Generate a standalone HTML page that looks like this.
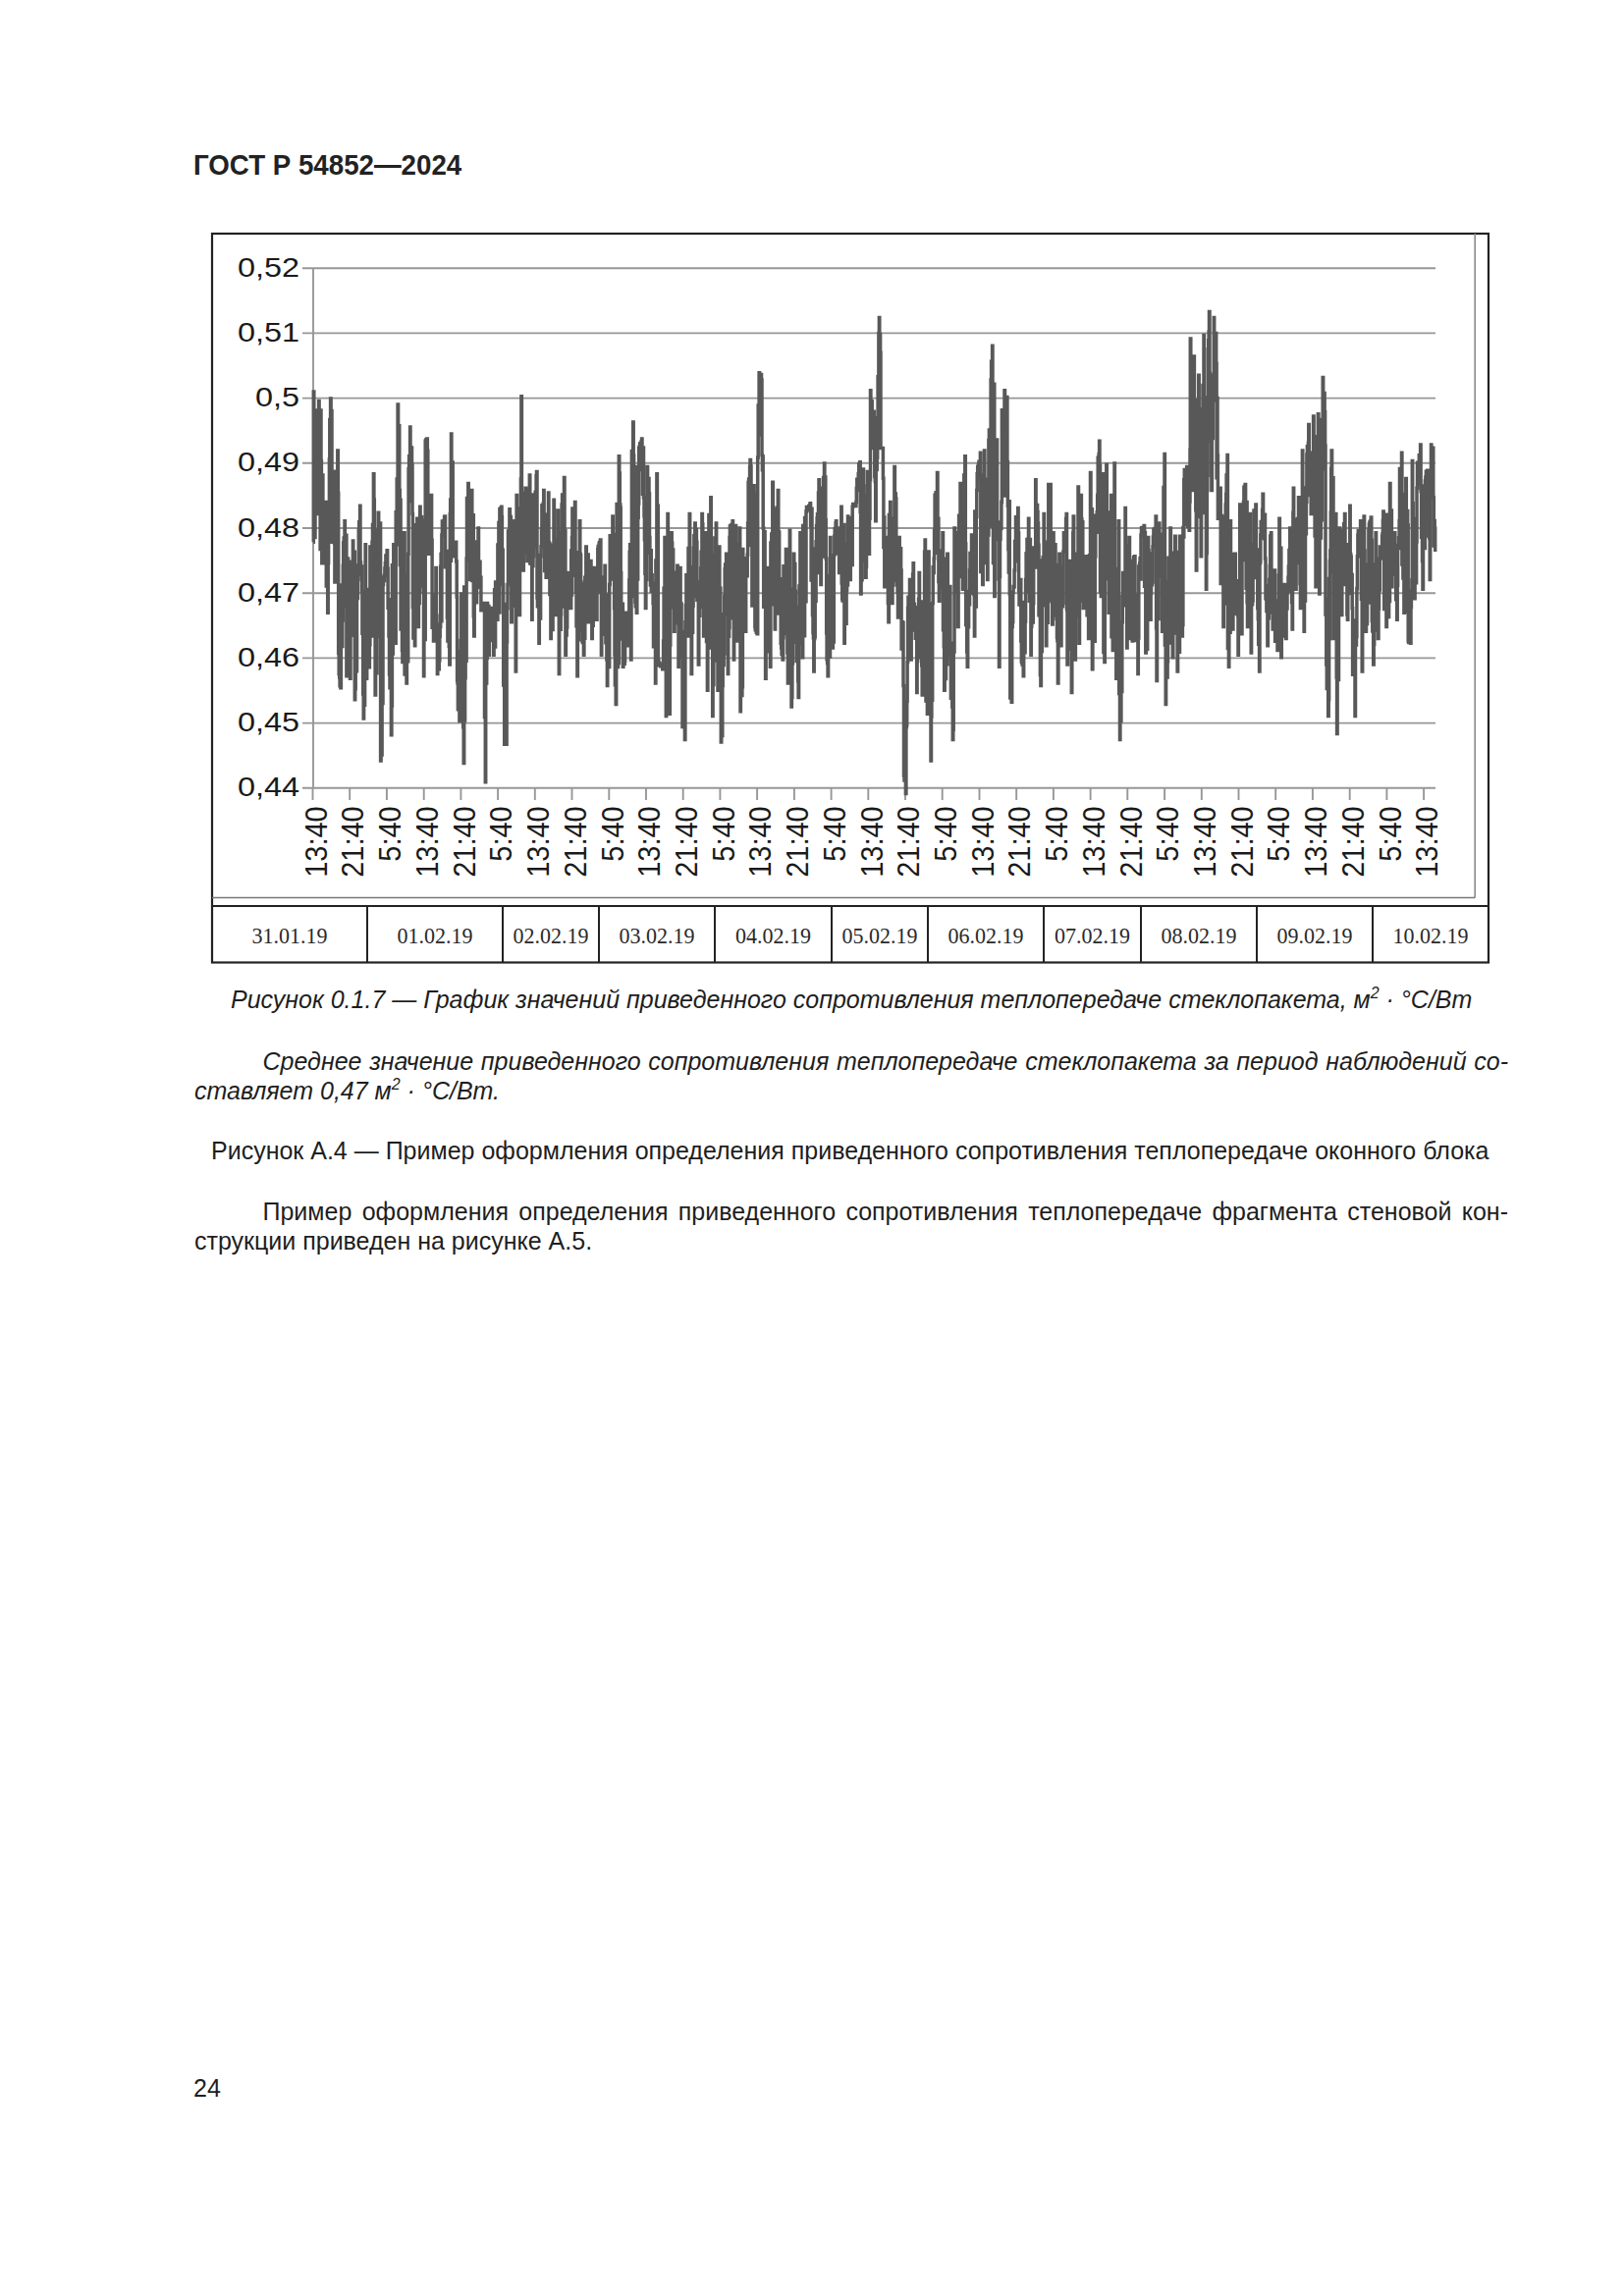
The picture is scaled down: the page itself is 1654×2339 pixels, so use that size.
<!DOCTYPE html>
<html><head><meta charset="utf-8">
<style>
html,body{margin:0;padding:0;background:#fff;}
body{width:1654px;height:2339px;position:relative;overflow:hidden;font-family:"Liberation Sans",sans-serif;color:#1e1e1e;}
.a{position:absolute;white-space:nowrap;}
.hdr{left:197px;top:150px;font-size:27.7px;font-weight:bold;line-height:34px;color:#222;transform:scale(1,1.065);transform-origin:0 0;}
.dt{position:absolute;top:937px;height:30px;line-height:30px;text-align:center;font-family:"Liberation Serif",serif;font-size:22px;color:#2a2a2a;transform:scale(1,1.07);transform-origin:50% 0;}
.t{font-size:25px;line-height:30px;}
.i{font-style:italic;}
.j{text-align:justify;text-align-last:justify;}
sup{font-size:64%;line-height:0;vertical-align:0.6em;}
</style></head><body>
<div class="a hdr">ГОСТ Р 54852—2024</div>
<svg width="1654" height="1000" viewBox="0 0 1654 1000" style="position:absolute;left:0;top:0">
<rect x="216" y="238" width="1300" height="742.5" fill="none" stroke="#222" stroke-width="2.2"/>
<line x1="1502.2" y1="238" x2="1502.2" y2="914.5" stroke="#8a8a8a" stroke-width="1.6"/>
<line x1="216" y1="914.5" x2="1502.2" y2="914.5" stroke="#777" stroke-width="1.6"/>
<line x1="216" y1="923" x2="1516" y2="923" stroke="#222" stroke-width="2.2"/>
<line x1="374" y1="923" x2="374" y2="980.5" stroke="#222" stroke-width="2"/>
<line x1="512" y1="923" x2="512" y2="980.5" stroke="#222" stroke-width="2"/>
<line x1="610" y1="923" x2="610" y2="980.5" stroke="#222" stroke-width="2"/>
<line x1="728" y1="923" x2="728" y2="980.5" stroke="#222" stroke-width="2"/>
<line x1="847" y1="923" x2="847" y2="980.5" stroke="#222" stroke-width="2"/>
<line x1="945" y1="923" x2="945" y2="980.5" stroke="#222" stroke-width="2"/>
<line x1="1063" y1="923" x2="1063" y2="980.5" stroke="#222" stroke-width="2"/>
<line x1="1162" y1="923" x2="1162" y2="980.5" stroke="#222" stroke-width="2"/>
<line x1="1280" y1="923" x2="1280" y2="980.5" stroke="#222" stroke-width="2"/>
<line x1="1398" y1="923" x2="1398" y2="980.5" stroke="#222" stroke-width="2"/>
<line x1="308" y1="273.2" x2="1462" y2="273.2" stroke="#979797" stroke-width="1.9"/>
<line x1="308" y1="339.4" x2="1462" y2="339.4" stroke="#979797" stroke-width="1.9"/>
<line x1="308" y1="405.6" x2="1462" y2="405.6" stroke="#979797" stroke-width="1.9"/>
<line x1="308" y1="471.8" x2="1462" y2="471.8" stroke="#979797" stroke-width="1.9"/>
<line x1="308" y1="538" x2="1462" y2="538" stroke="#979797" stroke-width="1.9"/>
<line x1="308" y1="604.2" x2="1462" y2="604.2" stroke="#979797" stroke-width="1.9"/>
<line x1="308" y1="670.4" x2="1462" y2="670.4" stroke="#979797" stroke-width="1.9"/>
<line x1="308" y1="736.6" x2="1462" y2="736.6" stroke="#979797" stroke-width="1.9"/>
<line x1="308" y1="802.8" x2="1462" y2="802.8" stroke="#979797" stroke-width="1.9"/>
<line x1="319" y1="273.2" x2="319" y2="802.8" stroke="#979797" stroke-width="1.9"/>
<line x1="318.5" y1="802.8" x2="318.5" y2="815" stroke="#979797" stroke-width="1.9"/>
<line x1="356.2" y1="802.8" x2="356.2" y2="815" stroke="#979797" stroke-width="1.9"/>
<line x1="393.9" y1="802.8" x2="393.9" y2="815" stroke="#979797" stroke-width="1.9"/>
<line x1="431.7" y1="802.8" x2="431.7" y2="815" stroke="#979797" stroke-width="1.9"/>
<line x1="469.4" y1="802.8" x2="469.4" y2="815" stroke="#979797" stroke-width="1.9"/>
<line x1="507.1" y1="802.8" x2="507.1" y2="815" stroke="#979797" stroke-width="1.9"/>
<line x1="544.8" y1="802.8" x2="544.8" y2="815" stroke="#979797" stroke-width="1.9"/>
<line x1="582.5" y1="802.8" x2="582.5" y2="815" stroke="#979797" stroke-width="1.9"/>
<line x1="620.3" y1="802.8" x2="620.3" y2="815" stroke="#979797" stroke-width="1.9"/>
<line x1="658" y1="802.8" x2="658" y2="815" stroke="#979797" stroke-width="1.9"/>
<line x1="695.7" y1="802.8" x2="695.7" y2="815" stroke="#979797" stroke-width="1.9"/>
<line x1="733.4" y1="802.8" x2="733.4" y2="815" stroke="#979797" stroke-width="1.9"/>
<line x1="771.1" y1="802.8" x2="771.1" y2="815" stroke="#979797" stroke-width="1.9"/>
<line x1="808.9" y1="802.8" x2="808.9" y2="815" stroke="#979797" stroke-width="1.9"/>
<line x1="846.6" y1="802.8" x2="846.6" y2="815" stroke="#979797" stroke-width="1.9"/>
<line x1="884.3" y1="802.8" x2="884.3" y2="815" stroke="#979797" stroke-width="1.9"/>
<line x1="922" y1="802.8" x2="922" y2="815" stroke="#979797" stroke-width="1.9"/>
<line x1="959.7" y1="802.8" x2="959.7" y2="815" stroke="#979797" stroke-width="1.9"/>
<line x1="997.5" y1="802.8" x2="997.5" y2="815" stroke="#979797" stroke-width="1.9"/>
<line x1="1035.2" y1="802.8" x2="1035.2" y2="815" stroke="#979797" stroke-width="1.9"/>
<line x1="1072.9" y1="802.8" x2="1072.9" y2="815" stroke="#979797" stroke-width="1.9"/>
<line x1="1110.6" y1="802.8" x2="1110.6" y2="815" stroke="#979797" stroke-width="1.9"/>
<line x1="1148.3" y1="802.8" x2="1148.3" y2="815" stroke="#979797" stroke-width="1.9"/>
<line x1="1186.1" y1="802.8" x2="1186.1" y2="815" stroke="#979797" stroke-width="1.9"/>
<line x1="1223.8" y1="802.8" x2="1223.8" y2="815" stroke="#979797" stroke-width="1.9"/>
<line x1="1261.5" y1="802.8" x2="1261.5" y2="815" stroke="#979797" stroke-width="1.9"/>
<line x1="1299.2" y1="802.8" x2="1299.2" y2="815" stroke="#979797" stroke-width="1.9"/>
<line x1="1336.9" y1="802.8" x2="1336.9" y2="815" stroke="#979797" stroke-width="1.9"/>
<line x1="1374.7" y1="802.8" x2="1374.7" y2="815" stroke="#979797" stroke-width="1.9"/>
<line x1="1412.4" y1="802.8" x2="1412.4" y2="815" stroke="#979797" stroke-width="1.9"/>
<line x1="1450.1" y1="802.8" x2="1450.1" y2="815" stroke="#979797" stroke-width="1.9"/>
<path d="M319.1 552.3H319.3V399.0H319.8V445.5H320.2V524.4H320.6V547.5H321.0V494.9H321.4V454.1H321.8V418.1H322.2V474.0H322.7V456.4H323.2V442.5H323.7V523.5H324.1V426.3H324.6V408.5H325.1V515.4H325.6V452.5H326.1V559.5H326.5V418.1H327.0V469.4H327.4V524.3H327.8V573.8H328.1V510.8H328.5V484.0H328.9V533.5H329.3V512.4H329.7V557.7H330.2V573.8H330.6V533.4H331.0V560.0H331.4V550.3H331.8V511.6H332.3V597.1H332.8V547.5H333.2V561.8H333.7V624.2H334.2V573.6H334.6V515.3H335.0V511.6H335.4V467.9H335.8V427.4H336.2V471.2H336.6V406.1H337.1V509.3H337.6V418.6H338.0V552.3H338.5V535.0H338.9V521.9H339.3V541.2H339.7V511.6H340.1V519.5H340.5V553.0H340.9V593.0H341.4V480.2H341.9V557.0H342.3V563.2H342.8V521.1H343.3V538.0H343.8V458.9H344.3V502.3H344.7V665.5H345.2V686.4H345.7V690.0H346.1V698.7H346.5V698.2H346.9V700.8H347.4V643.9H347.9V595.9H348.3V658.4H348.8V631.9H349.3V576.2H349.7V553.1H350.2V548.1H350.6V559.5H351.0V530.7H351.4V602.3H351.9V617.4H352.4V545.3H352.9V688.8H353.3V601.8H353.7V593.5H354.1V569.1H354.6V594.3H355.0V626.5H355.5V634.4H356.0V614.1H356.5V691.2H357.0V581.6H357.4V621.3H357.9V572.3H358.4V647.3H358.9V638.1H359.4V551.1H359.8V595.0H360.3V596.5H360.8V562.3H361.3V712.8H361.7V701.7H362.2V633.8H362.6V663.5H363.1V683.8H363.5V606.1H364.0V609.5H364.4V590.6H364.8V575.9H365.3V540.1H365.7V531.7H366.1V573.7H366.6V515.2H367.0V572.9H367.5V585.6H368.0V577.0H368.5V602.6H368.9V645.3H369.3V640.4H369.7V706.9H370.2V732.0H370.6V679.6H371.1V718.2H371.6V644.7H372.1V554.7H372.5V610.3H372.9V616.6H373.3V691.2H373.7V600.5H374.2V670.9H374.6V646.0H375.1V620.7H375.5V650.1H376.0V679.7H376.4V656.8H376.9V557.1H377.3V616.3H377.7V631.8H378.1V575.5H378.5V648.1H379.0V552.2H379.5V534.6H380.0V574.2H380.4V482.8H380.9V509.0H381.3V629.1H381.7V555.7H382.1V708.0H382.6V560.5H383.0V594.4H383.5V685.8H383.9V597.5H384.4V540.1H384.8V572.6H385.2V522.3H385.7V648.5H386.2V554.8H386.7V608.4H387.1V532.9H387.6V775.1H388.1V711.4H388.6V769.1H389.1V675.0H389.5V716.6H390.0V595.4H390.5V588.1H391.0V591.4H391.5V586.1H391.9V579.0H392.4V573.8H392.9V565.9H393.3V566.5H393.7V567.8H394.1V560.7H394.6V579.2H395.1V619.3H395.5V610.7H396.0V648.1H396.5V686.8H397.0V700.7H397.4V665.4H397.9V690.0H398.4V748.7H398.9V719.0H399.4V575.7H399.8V666.1H400.3V583.6H400.8V554.7H401.3V581.1H401.8V574.1H402.2V613.0H402.7V655.3H403.2V521.8H403.7V522.7H404.2V488.0H404.6V554.7H405.1V412.1H405.6V471.3H406.0V445.3H406.4V433.7H406.8V499.6H407.3V575.6H407.7V509.2H408.1V640.9H408.6V616.1H409.0V578.1H409.5V662.3H409.9V674.5H410.4V591.7H410.8V634.6H411.2V601.6H411.6V542.7H412.1V687.0H412.5V603.6H413.0V584.8H413.5V642.9H414.0V696.0H414.4V618.0H414.8V592.7H415.3V673.7H415.7V564.3H416.1V477.7H416.6V464.8H417.1V510.6H417.6V434.9H418.0V484.5H418.5V503.6H419.0V455.9H419.5V473.5H420.0V523.5H420.4V618.6H420.9V649.9H421.4V572.6H421.9V620.6H422.4V657.7H422.8V606.5H423.3V534.8H423.8V566.1H424.3V539.7H424.8V528.3H425.2V568.0H425.6V564.1H426.0V638.5H426.4V577.8H426.8V614.5H427.2V603.0H427.7V516.3H428.1V526.4H428.6V597.1H429.1V526.7H429.5V561.5H430.0V560.4H430.5V536.3H431.0V530.3H431.5V688.8H431.9V558.1H432.3V613.5H432.8V651.6H433.2V449.3H433.6V449.0H434.0V447.8H434.4V448.1H434.9V446.9H435.3V459.3H435.8V527.2H436.3V533.7H436.7V564.3H437.2V551.9H437.7V538.2H438.2V534.1H438.7V527.6H439.1V504.4H439.6V550.3H440.1V639.3H440.6V606.1H441.0V633.6H441.5V652.9H442.0V638.1H442.5V611.0H443.0V613.2H443.4V639.9H443.9V578.6H444.4V627.2H444.9V636.0H445.4V686.4H445.8V681.7H446.3V650.4H446.8V681.7H447.3V672.8H447.8V648.3H448.2V638.5H448.7V577.3H449.1V564.6H449.5V632.7H449.9V545.1H450.4V531.1H450.8V541.8H451.3V531.4H451.7V539.2H452.2V530.2H452.6V526.4H453.0V525.9H453.5V577.7H454.0V569.4H454.5V576.3H454.9V561.6H455.4V629.0H455.9V653.1H456.4V652.8H456.9V642.1H457.3V658.4H457.8V676.9H458.3V523.8H458.7V508.9H459.1V571.2H459.5V442.1H459.9V479.7H460.4V552.0H460.8V471.0H461.2V566.7H461.6V565.9H462.1V565.2H462.5V559.4H463.0V562.3H463.4V564.4H463.9V563.6H464.3V552.3H464.7V572.0H465.2V608.1H465.6V692.9H466.0V696.0H466.4V722.8H466.9V717.5H467.4V706.2H467.9V734.4H468.4V663.4H468.8V663.9H469.3V652.4H469.8V605.0H470.3V708.3H470.8V667.3H471.2V717.0H471.7V740.7H472.2V777.5H472.7V597.9H473.2V733.9H473.6V690.8H474.1V649.5H474.6V673.2H475.1V569.1H475.5V507.6H475.9V547.9H476.4V543.7H476.8V492.4H477.2V570.4H477.7V531.9H478.2V524.2H478.7V590.6H479.1V551.9H479.5V528.0H480.0V580.0H480.4V499.6H480.8V591.5H481.3V568.8H481.8V524.8H482.3V627.8H482.7V648.1H483.2V584.6H483.7V591.2H484.2V565.0H484.7V606.8H485.1V613.8H485.6V551.9H486.1V588.4H486.6V592.5H487.0V537.9H487.5V596.6H488.0V597.6H488.5V572.3H489.0V598.3H489.4V588.2H489.9V621.8H490.4V614.8H490.8V618.3H491.3V619.1H491.7V619.2H492.2V621.4H492.6V619.2H493.1V614.6H493.5V730.4H493.9V698.8H494.3V796.7H494.7V646.0H495.2V695.9H495.7V670.6H496.2V614.6H496.6V641.7H497.0V639.5H497.4V617.5H497.9V667.3H498.3V635.4H498.8V623.5H499.3V633.7H499.8V619.4H500.2V637.3H500.7V642.5H501.2V652.6H501.7V641.1H502.2V639.1H502.6V667.3H503.1V628.6H503.6V600.7H504.1V659.0H504.6V593.0H505.0V610.2H505.5V612.5H506.0V615.4H506.5V631.3H506.9V555.1H507.4V576.3H507.9V532.4H508.4V624.1H508.9V518.7H509.3V518.6H509.7V517.9H510.2V518.4H510.6V516.3H511.0V526.7H511.4V588.1H511.8V560.3H512.2V595.4H512.7V698.0H513.2V615.4H513.7V758.3H514.1V758.3H514.6V758.3H515.1V758.3H515.6V758.3H516.1V654.1H516.5V619.8H517.0V595.4H517.5V540.9H518.0V549.5H518.4V567.0H518.9V518.7H519.4V548.8H519.9V526.4H520.4V553.4H520.8V633.7H521.3V562.4H521.7V560.0H522.1V573.8H522.6V530.7H523.0V540.3H523.4V539.2H523.8V563.6H524.2V578.6H524.7V617.3H525.2V684.1H525.6V552.6H526.1V504.4H526.6V571.0H527.1V517.7H527.6V561.1H528.0V538.9H528.5V555.6H529.0V626.6H529.5V544.4H529.9V519.3H530.4V488.0H530.9V403.7H531.4V515.5H531.9V559.6H532.3V502.2H532.8V581.0H533.3V513.1H533.8V550.7H534.3V561.7H534.7V561.2H535.2V497.2H535.7V563.6H536.1V504.2H536.5V517.2H536.9V571.5H537.4V507.0H537.9V499.3H538.3V519.3H538.8V538.1H539.3V484.0H539.8V573.6H540.2V574.2H540.7V547.1H541.2V504.1H541.7V631.3H542.1V567.8H542.6V576.5H543.0V566.4H543.4V557.1H543.8V503.9H544.3V529.5H544.7V541.6H545.2V501.3H545.6V528.8H546.1V484.8H546.5V480.4H547.0V609.0H547.4V617.7H547.9V617.8H548.4V565.4H548.9V655.3H549.3V616.1H549.7V571.7H550.2V630.0H550.6V566.7H551.0V556.7H551.5V538.5H551.9V514.8H552.3V515.6H552.8V515.1H553.2V513.0H553.7V499.6H554.1V524.0H554.6V581.6H555.1V524.3H555.6V548.9H556.1V588.2H556.5V534.6H557.0V538.0H557.5V540.0H558.0V531.1H558.5V502.0H558.9V552.7H559.4V553.9H559.9V605.4H560.4V604.2H560.9V650.5H561.3V603.8H561.8V555.3H562.2V595.5H562.6V641.5H563.1V580.9H563.5V559.1H564.0V509.2H564.4V596.6H564.8V550.0H565.3V550.6H565.7V626.6H566.1V575.0H566.6V571.5H567.1V577.8H567.6V560.4H568.0V519.9H568.5V576.5H568.9V603.8H569.3V686.4H569.7V588.6H570.2V608.6H570.7V641.3H571.2V626.0H571.6V542.7H572.1V513.9H572.6V504.0H573.1V525.0H573.6V528.0H574.0V510.2H574.5V486.4H575.0V618.0H575.5V540.6H575.9V667.3H576.4V644.7H576.8V647.1H577.2V639.0H577.7V583.4H578.1V603.8H578.5V584.0H579.0V605.0H579.4V595.7H579.9V611.8H580.3V591.0H580.8V597.6H581.2V619.4H581.7V561.1H582.1V605.9H582.5V547.5H582.9V518.0H583.3V526.6H583.8V531.2H584.2V527.3H584.7V539.2H585.1V533.3H585.5V511.6H586.0V586.2H586.5V603.1H587.0V637.8H587.4V621.0H587.9V688.8H588.4V562.8H588.9V651.8H589.4V612.1H589.8V639.2H590.3V530.7H590.8V564.3H591.2V565.4H591.6V592.7H592.0V626.6H592.5V642.6H593.0V653.1H593.4V654.5H593.9V648.6H594.4V667.3H594.9V594.7H595.4V650.3H595.8V588.3H596.3V596.2H596.8V557.1H597.3V598.9H597.7V568.3H598.2V586.6H598.7V564.9H599.2V633.7H599.7V596.2H600.1V618.0H600.6V622.8H601.1V610.7H601.6V571.5H602.0V589.2H602.4V631.8H602.8V650.5H603.3V609.3H603.7V637.2H604.2V596.6H604.7V589.8H605.2V578.6H605.7V608.3H606.1V619.0H606.6V611.8H607.1V596.8H607.6V631.3H608.0V578.4H608.4V603.4H608.8V559.5H609.2V556.6H609.7V556.4H610.1V554.0H610.5V552.4H611.0V557.0H611.4V549.9H611.9V602.7H612.4V667.3H612.8V600.5H613.3V646.2H613.7V588.0H614.2V595.2H614.6V621.8H615.1V637.5H615.5V595.5H616.0V576.2H616.4V605.5H616.9V654.8H617.4V606.7H617.9V672.1H618.4V698.4H618.8V636.3H619.3V625.2H619.8V623.8H620.3V679.6H620.7V595.4H621.2V545.7H621.7V548.6H622.1V590.1H622.5V577.6H623.0V566.6H623.4V560.5H623.9V525.9H624.3V557.0H624.7V588.0H625.1V544.5H625.6V619.4H626.0V666.7H626.4V697.7H626.8V678.7H627.2V717.6H627.7V677.1H628.1V513.5H628.6V640.1H629.0V679.6H629.5V583.0H629.9V675.6H630.3V464.8H630.8V482.0H631.3V513.9H631.8V517.2H632.2V583.4H632.7V650.3H633.1V651.0H633.6V642.9H634.0V615.2H634.4V679.3H634.9V637.7H635.3V649.1H635.8V676.3H636.2V673.6H636.6V651.3H637.1V652.8H637.5V624.2H638.0V647.3H638.5V632.5H639.0V632.7H639.4V642.6H639.9V657.7H640.4V633.1H640.8V590.9H641.2V562.6H641.6V554.7H642.1V605.6H642.5V672.1H643.0V577.0H643.4V459.6H643.9V519.9H644.3V480.0H644.7V430.1H645.2V464.1H645.6V498.0H646.0V508.5H646.4V607.4H646.9V613.3H647.3V617.7H647.8V612.7H648.3V624.2H648.8V475.6H649.3V589.9H649.7V527.3H650.2V512.9H650.7V456.5H651.2V455.1H651.7V451.8H652.1V452.5H652.6V452.1H653.1V449.8H653.6V446.9H654.0V478.5H654.5V503.2H655.0V456.0H655.5V506.8H656.0V525.7H656.4V549.8H656.9V584.3H657.4V619.4H657.9V588.7H658.3V590.4H658.7V551.8H659.1V475.6H659.6V490.3H660.0V516.0H660.5V487.6H661.0V502.7H661.5V547.5H661.9V563.3H662.4V595.9H662.8V560.8H663.3V602.2H663.7V585.8H664.2V594.2H664.6V599.3H665.1V614.6H665.5V658.8H666.0V626.1H666.5V653.7H667.0V658.0H667.5V696.0H667.9V570.9H668.4V668.7H668.9V482.8H669.4V578.6H669.9V515.3H670.3V672.1H670.8V677.7H671.3V675.3H671.8V676.8H672.3V676.7H672.7V678.8H673.2V678.1H673.7V678.0H674.2V678.7H674.7V681.7H675.1V679.8H675.6V652.9H676.1V599.3H676.6V610.4H677.0V547.5H677.5V632.6H677.9V633.4H678.3V729.6H678.7V664.9H679.1V666.3H679.5V571.8H680.0V523.5H680.4V638.8H680.9V669.2H681.4V590.2H681.8V727.2H682.3V656.9H682.8V618.8H683.3V611.6H683.8V542.7H684.2V553.2H684.7V575.0H685.2V560.1H685.7V588.7H686.2V610.8H686.6V643.3H687.1V609.2H687.5V626.1H688.0V583.2H688.4V610.2H688.9V612.6H689.3V599.4H689.8V576.2H690.2V621.1H690.6V634.7H691.0V679.3H691.4V666.2H691.8V668.9H692.2V660.2H692.7V578.6H693.1V649.8H693.6V614.9H694.1V643.6H694.6V655.3H695.0V740.5H695.5V708.5H696.0V740.5H696.5V702.6H696.9V703.2H697.4V753.5H697.9V633.8H698.4V616.8H698.9V585.8H699.3V618.6H699.7V622.9H700.2V628.3H700.6V648.1H701.0V558.4H701.4V616.1H701.8V580.1H702.2V523.5H702.7V577.7H703.2V579.1H703.7V606.1H704.1V686.4H704.6V635.6H705.1V644.2H705.6V617.2H706.1V607.4H706.5V558.2H706.9V545.8H707.3V584.4H707.8V533.1H708.2V542.8H708.6V543.8H709.0V539.8H709.4V552.3H709.9V611.3H710.4V595.0H710.8V592.6H711.3V676.9H711.8V616.5H712.3V627.3H712.8V618.6H713.2V600.2H713.7V578.9H714.1V562.3H714.5V574.3H714.9V523.5H715.4V534.0H715.8V611.2H716.2V614.7H716.6V648.1H717.1V599.1H717.6V573.8H718.0V542.7H718.5V601.0H719.0V640.1H719.5V653.6H719.9V607.1H720.4V703.2H720.9V641.3H721.4V544.3H721.9V524.6H722.3V660.1H722.8V571.3H723.3V541.9H723.8V506.8H724.3V586.1H724.7V592.6H725.2V565.3H725.7V729.6H726.1V674.6H726.5V697.4H726.9V576.2H727.4V575.4H727.9V548.0H728.3V561.2H728.8V570.3H729.3V533.1H729.7V673.0H730.2V580.5H730.6V579.7H731.0V703.2H731.4V607.3H731.9V611.3H732.4V557.1H732.9V611.7H733.4V599.2H733.8V625.7H734.3V755.9H734.8V721.9H735.3V749.5H735.8V698.4H736.2V646.1H736.7V677.4H737.2V665.9H737.7V607.4H738.2V579.8H738.6V575.0H739.1V575.3H739.6V564.3H740.0V607.5H740.5V584.0H740.9V626.6H741.3V686.4H741.7V631.2H742.1V648.2H742.6V639.4H743.0V547.5H743.4V536.0H743.9V537.0H744.3V535.3H744.7V540.1H745.2V534.5H745.6V535.5H746.1V530.7H746.5V629.7H746.9V555.6H747.3V672.1H747.7V617.1H748.2V587.9H748.7V615.1H749.2V535.5H749.6V607.2H750.0V582.7H750.5V604.0H750.9V652.9H751.3V554.9H751.8V612.4H752.3V588.0H752.8V633.4H753.2V537.9H753.7V595.8H754.0V724.8H754.4V635.8H754.9V657.8H755.4V708.6H755.9V699.8H756.4V559.5H756.8V588.5H757.3V615.7H757.8V602.0H758.3V638.7H758.8V570.7H759.2V643.3H759.7V585.2H760.2V568.8H760.7V586.7H761.2V565.2H761.6V533.1H762.1V491.4H762.6V487.9H763.1V515.1H763.6V475.4H764.0V468.4H764.5V475.1H765.0V555.5H765.5V497.1H765.9V617.0H766.4V508.5H766.8V582.1H767.2V526.4H767.7V494.8H768.1V597.4H768.5V503.6H768.9V638.5H769.3V641.7H769.8V639.7H770.3V644.3H770.7V642.7H771.2V645.7H771.7V466.0H772.2V413.1H772.7V443.1H773.1V379.8H773.6V384.2H774.1V382.5H774.6V381.5H775.1V381.4H775.5V387.0H776.0V463.6H776.4V478.8H776.8V465.0H777.2V537.9H777.7V618.3H778.2V550.2H778.6V541.8H779.1V606.4H779.6V691.2H780.1V656.5H780.6V647.5H781.0V629.7H781.5V611.5H782.0V578.6H782.5V663.7H783.0V639.4H783.4V615.0H783.9V632.6H784.4V679.3H784.9V553.0H785.4V562.6H785.8V543.9H786.3V571.2H786.8V491.2H787.3V615.5H787.7V615.7H788.2V563.5H788.7V538.1H789.2V640.9H789.6V583.7H790.1V559.6H790.5V519.6H791.0V517.2H791.4V527.0H791.9V576.2H792.3V499.6H792.8V624.9H793.3V542.1H793.7V603.9H794.2V609.1H794.7V589.8H795.2V655.3H795.7V660.0H796.1V666.2H796.6V663.7H797.1V672.1H797.6V649.7H798.0V576.8H798.5V636.5H799.0V627.6H799.5V597.0H800.0V607.6H800.4V559.5H800.9V607.6H801.4V645.6H801.9V664.8H802.4V696.0H802.8V593.8H803.3V577.7H803.8V636.6H804.3V540.3H804.7V661.2H805.1V659.3H805.6V600.2H806.0V720.0H806.4V710.5H806.9V675.9H807.4V654.3H807.9V616.3H808.4V564.3H808.8V609.1H809.3V574.5H809.8V602.2H810.3V618.5H810.7V638.5H811.2V673.5H811.7V655.0H812.2V639.4H812.7V693.8H813.1V710.4H813.6V632.5H814.0V597.1H814.4V609.5H814.9V542.7H815.3V655.4H815.8V595.8H816.3V625.6H816.7V565.0H817.2V669.7H817.7V535.4H818.2V606.6H818.7V621.4H819.1V647.8H819.6V527.6H820.1V592.5H820.6V612.8H821.0V521.1H821.5V516.5H822.0V517.7H822.4V519.8H822.9V519.0H823.3V517.2H823.8V515.5H824.2V516.2H824.7V514.5H825.1V512.8H825.6V535.8H826.1V591.1H826.6V518.3H827.0V560.8H827.5V626.6H828.0V644.5H828.4V649.8H828.8V684.1H829.2V650.7H829.7V648.8H830.2V559.1H830.6V612.3H831.1V551.8H831.6V535.5H832.1V528.0H832.5V523.7H833.0V525.1H833.5V502.1H834.0V488.8H834.5V583.4H834.9V516.2H835.4V567.8H835.9V595.4H836.4V497.3H836.8V528.6H837.3V500.9H837.7V530.0H838.2V566.9H838.6V486.4H839.1V547.2H839.5V472.0H839.9V498.8H840.4V486.1H840.8V529.7H841.2V569.1H841.7V645.1H842.1V671.7H842.6V675.4H843.1V688.8H843.6V605.0H844.0V619.6H844.5V586.6H845.0V669.2H845.5V547.5H846.0V595.2H846.4V623.8H846.9V581.5H847.4V611.8H847.9V660.1H848.4V608.5H848.8V654.0H849.3V565.7H849.8V546.3H850.2V538.5H850.7V540.4H851.1V532.9H851.5V530.7H851.9V560.3H852.4V560.8H852.8V564.1H853.3V538.0H853.7V543.7H854.2V555.6H854.6V583.4H855.0V565.7H855.5V564.0H855.9V550.0H856.3V550.5H856.8V516.3H857.2V594.0H857.7V609.9H858.1V612.0H858.5V586.1H859.0V562.3H859.4V534.6H859.9V655.3H860.3V611.5H860.8V602.8H861.2V616.6H861.7V635.3H862.1V601.3H862.6V554.8H863.0V596.1H863.5V525.9H863.9V565.1H864.4V556.5H864.9V527.8H865.4V547.2H865.9V590.6H866.3V535.8H866.8V553.0H867.3V575.4H867.8V575.5H868.2V516.3H868.7V513.6H869.2V515.3H869.6V513.5H870.1V513.5H870.5V514.1H871.0V514.3H871.4V515.4H871.9V511.6H872.3V497.6H872.8V488.2H873.3V488.7H873.8V499.2H874.2V482.8H874.7V472.8H875.2V474.5H875.7V470.8H876.2V521.6H876.6V605.0H877.1V591.4H877.6V590.2H878.1V540.4H878.5V534.8H879.0V478.0H879.5V494.9H879.8V511.6H880.2V559.1H880.7V571.0H881.2V539.1H881.7V588.2H882.1V577.4H882.5V505.0H883.0V563.0H883.4V480.4H883.8V540.0H884.2V539.8H884.6V551.4H885.1V564.3H885.5V528.2H886.0V488.4H886.5V397.8H886.9V412.1H887.3V419.6H887.8V408.8H888.2V456.5H888.6V432.8H889.0V444.6H889.4V455.7H889.9V419.3H890.3V425.8H890.8V485.4H891.3V490.3H891.7V530.7H892.2V462.6H892.7V478.4H893.2V466.3H893.7V442.1H894.1V383.7H894.5V412.9H894.9V339.5H895.4V323.5H895.8V396.0H896.2V340.4H896.6V359.2H897.0V456.5H897.5V456.5H898.0V456.5H898.4V456.5H898.9V456.5H899.4V487.3H899.9V557.4H900.4V527.0H900.8V597.8H901.3V581.1H901.7V592.3H902.1V564.2H902.6V547.5H903.0V569.3H903.5V573.2H904.0V576.0H904.4V614.6H904.9V633.7H905.4V524.4H905.8V610.2H906.2V591.7H906.6V511.6H907.1V594.1H907.6V567.3H908.0V565.8H908.5V614.6H909.0V528.2H909.5V596.0H909.9V559.0H910.4V591.6H910.9V475.6H911.4V507.1H911.9V503.0H912.3V508.1H912.8V569.1H913.3V575.8H913.7V596.1H914.1V603.2H914.5V629.0H914.9V609.7H915.3V609.1H915.7V547.5H916.2V564.1H916.7V576.9H917.1V558.8H917.6V581.0H918.1V661.1H918.6V638.3H919.1V633.7H919.5V634.5H920.0V698.4H920.5V790.0H921.0V795.1H921.4V723.7H921.9V769.3H922.4V808.6H922.9V740.8H923.3V738.7H923.7V714.6H924.1V674.5H924.6V619.5H925.0V608.2H925.5V655.7H926.0V622.9H926.5V590.6H926.9V621.6H927.3V661.9H927.7V672.1H928.2V637.8H928.6V624.1H929.1V604.9H929.6V585.1H930.1V573.8H930.5V641.9H931.0V615.4H931.4V623.5H931.9V621.7H932.3V650.2H932.8V638.5H933.2V618.7H933.7V705.6H934.1V673.4H934.6V623.6H935.1V644.6H935.6V610.2H936.1V583.4H936.5V647.2H937.0V638.4H937.4V669.4H937.9V669.7H938.3V614.6H938.7V677.8H939.2V708.0H939.7V612.9H940.1V680.4H940.6V661.5H941.1V665.9H941.6V562.3H942.1V549.9H942.5V642.9H943.0V714.1H943.5V681.6H944.0V665.6H944.4V727.2H944.9V670.8H945.3V671.6H945.7V561.9H946.1V711.2H946.6V667.9H947.1V616.0H947.6V640.9H948.0V775.1H948.5V730.1H948.9V671.0H949.3V713.2H949.7V614.6H950.2V577.8H950.7V583.5H951.2V568.9H951.6V540.3H952.1V504.3H952.6V519.6H953.1V501.8H953.6V504.0H954.0V513.3H954.5V481.6H955.0V563.3H955.5V528.2H955.9V592.6H956.4V612.2H956.9V569.1H957.3V598.2H957.8V576.1H958.2V579.1H958.7V560.9H959.1V574.7H959.6V572.3H960.0V542.7H960.5V641.8H960.9V627.0H961.3V658.8H961.7V703.2H962.2V569.2H962.6V653.9H963.0V691.5H963.5V647.8H963.9V609.7H964.4V676.7H964.8V564.3H965.3V609.0H965.7V608.9H966.2V643.3H966.6V656.1H967.1V638.7H967.5V597.5H967.9V667.3H968.4V711.3H968.9V700.7H969.4V681.4H969.8V719.9H970.3V753.5H970.8V743.2H971.2V655.2H971.6V663.9H972.0V537.9H972.5V602.4H972.9V559.7H973.4V576.8H973.8V587.6H974.3V590.2H974.7V542.5H975.2V572.5H975.6V638.5H976.1V551.2H976.6V525.3H977.0V552.9H977.5V587.5H978.0V492.4H978.5V530.6H978.9V541.3H979.4V523.7H979.9V509.3H980.4V600.2H980.9V495.7H981.3V526.6H981.8V484.0H982.3V516.8H982.8V464.8H983.3V554.0H983.7V636.6H984.2V633.6H984.7V664.0H985.2V679.3H985.7V630.9H986.1V638.8H986.6V602.4H987.1V615.8H987.6V581.0H988.0V563.6H988.5V565.3H989.0V567.5H989.5V545.1H990.0V604.2H990.4V561.5H990.9V581.6H991.4V584.6H991.9V605.6H992.4V648.1H992.8V521.0H993.3V588.2H993.8V618.1H994.3V526.5H994.8V499.6H995.2V482.7H995.7V475.2H996.1V483.7H996.6V473.1H997.0V470.3H997.5V477.5H997.9V488.3H998.4V461.2H998.8V582.6H999.3V493.1H999.8V564.5H1000.3V483.9H1000.7V595.4H1001.2V572.7H1001.6V523.0H1002.0V495.4H1002.5V458.9H1002.9V520.0H1003.3V488.2H1003.8V573.4H1004.2V542.4H1004.7V516.2H1005.1V527.1H1005.6V590.6H1006.0V493.7H1006.5V545.1H1006.9V448.5H1007.4V438.1H1007.8V453.6H1008.2V508.7H1008.7V535.9H1009.1V387.0H1009.6V368.3H1010.1V381.9H1010.6V352.2H1011.0V509.4H1011.5V573.4H1011.9V562.9H1012.3V391.3H1012.8V607.4H1013.2V544.9H1013.7V495.0H1014.2V527.9H1014.6V479.5H1015.1V448.1H1015.6V542.7H1016.1V549.4H1016.6V537.5H1017.0V589.9H1017.5V679.3H1018.0V587.6H1018.5V549.3H1019.0V532.0H1019.4V538.4H1019.9V511.6H1020.4V417.8H1020.8V479.9H1021.3V463.4H1021.7V446.9H1022.2V459.9H1022.6V505.1H1023.0V397.8H1023.5V435.0H1024.0V443.0H1024.5V441.6H1024.9V410.0H1025.4V404.6H1025.9V470.8H1026.4V515.3H1026.9V559.5H1027.3V583.0H1027.8V510.7H1028.3V605.0H1028.8V711.1H1029.3V670.2H1029.7V693.1H1030.2V715.2H1030.7V638.4H1031.2V633.5H1031.7V603.2H1032.1V597.5H1032.6V598.0H1033.1V581.0H1033.6V551.5H1034.0V571.8H1034.5V526.8H1034.9V566.2H1035.4V532.4H1035.8V565.3H1036.2V569.3H1036.7V517.5H1037.1V542.9H1037.6V601.5H1038.0V615.9H1038.5V612.5H1038.9V592.7H1039.4V590.6H1039.8V652.9H1040.3V674.1H1040.8V674.9H1041.2V677.2H1041.7V666.7H1042.2V688.8H1042.7V613.6H1043.2V626.6H1043.6V664.7H1044.1V633.0H1044.6V590.6H1045.1V563.7H1045.5V577.2H1046.0V549.8H1046.5V549.2H1047.0V582.4H1047.5V528.3H1047.9V603.0H1048.4V612.3H1048.9V549.6H1049.4V587.7H1049.9V667.3H1050.3V638.0H1050.8V625.5H1051.3V622.0H1051.8V633.9H1052.3V614.6H1052.7V557.9H1053.2V567.9H1053.7V569.8H1054.2V577.9H1054.7V488.8H1055.1V517.2H1055.6V519.5H1056.1V514.5H1056.6V521.5H1057.0V533.1H1057.5V555.2H1058.0V626.7H1058.5V600.1H1059.0V571.1H1059.4V687.4H1059.9V698.4H1060.4V622.7H1060.8V663.4H1061.3V587.0H1061.7V583.2H1062.2V567.7H1062.6V576.8H1063.1V523.5H1063.5V551.6H1064.0V553.0H1064.5V616.8H1065.0V612.3H1065.4V657.7H1065.9V601.6H1066.4V584.8H1066.9V634.3H1067.4V570.2H1067.8V493.6H1068.3V493.6H1068.8V493.6H1069.3V493.6H1069.8V493.6H1070.2V611.7H1070.7V557.5H1071.2V612.7H1071.7V636.1H1072.2V623.4H1072.6V542.7H1073.1V586.3H1073.6V562.5H1074.1V588.5H1074.6V554.7H1075.0V619.4H1075.5V627.0H1076.0V630.4H1076.5V649.4H1076.9V652.8H1077.4V696.0H1077.9V575.4H1078.4V638.8H1078.9V564.3H1079.3V623.9H1079.7V617.8H1080.2V635.2H1080.6V657.7H1081.0V577.2H1081.5V604.9H1082.0V617.8H1082.5V614.2H1082.9V561.9H1083.4V542.8H1083.8V544.2H1084.3V557.7H1084.7V550.8H1085.2V543.7H1085.6V528.6H1086.1V523.5H1086.5V620.9H1087.0V676.9H1087.5V661.3H1088.0V650.3H1088.4V626.2H1088.9V571.5H1089.4V612.5H1089.9V640.8H1090.4V640.7H1090.8V648.8H1091.3V705.6H1091.8V636.1H1092.3V595.6H1092.8V542.9H1093.2V525.9H1093.7V620.7H1094.1V596.7H1094.5V570.2H1094.9V672.1H1095.4V577.2H1095.8V627.0H1096.3V616.3H1096.7V564.2H1097.2V569.3H1097.6V615.1H1098.0V496.0H1098.5V601.9H1099.0V655.3H1099.5V612.0H1099.9V606.7H1100.4V552.6H1100.9V504.4H1101.4V528.8H1101.9V565.2H1102.3V531.8H1102.8V589.5H1103.3V619.4H1103.8V602.4H1104.3V613.5H1104.7V582.1H1105.2V587.5H1105.7V566.7H1106.2V604.2H1106.7V590.1H1107.1V626.7H1107.6V606.7H1108.1V618.6H1108.6V650.5H1109.1V587.9H1109.5V565.8H1110.0V590.4H1110.5V481.6H1111.0V541.5H1111.4V562.3H1111.9V518.8H1112.4V681.7H1112.9V626.3H1113.4V620.7H1113.8V638.7H1114.3V632.2H1114.8V653.2H1115.3V566.7H1115.8V525.3H1116.2V531.0H1116.7V542.3H1117.2V522.0H1117.7V504.4H1118.2V466.2H1118.6V467.4H1119.1V462.8H1119.6V449.3H1120.0V474.4H1120.5V602.5H1120.9V566.3H1121.3V607.4H1121.7V535.4H1122.1V511.3H1122.6V536.1H1123.0V482.8H1123.4V593.0H1123.9V664.6H1124.4V619.8H1124.9V674.5H1125.3V589.8H1125.8V589.3H1126.3V520.1H1126.8V473.2H1127.3V544.9H1127.7V548.2H1128.2V525.7H1128.7V555.9H1129.2V624.2H1129.7V562.5H1130.1V522.1H1130.6V586.4H1131.1V535.5H1131.6V504.4H1132.0V648.8H1132.4V614.6H1132.9V584.3H1133.3V662.5H1133.7V615.0H1134.1V642.5H1134.5V585.1H1135.0V472.0H1135.4V579.5H1135.9V656.9H1136.4V601.3H1136.8V691.2H1137.3V615.6H1137.8V646.0H1138.3V609.7H1138.8V593.7H1139.2V530.7H1139.7V706.6H1140.1V694.9H1140.5V753.5H1140.9V702.9H1141.4V734.6H1141.9V666.7H1142.4V704.4H1142.8V633.7H1143.3V607.7H1143.7V583.6H1144.2V611.4H1144.6V605.8H1145.1V614.9H1145.5V616.8H1146.0V517.5H1146.4V577.5H1146.8V556.8H1147.2V564.2H1147.7V660.1H1148.1V629.9H1148.6V612.6H1149.1V556.0H1149.5V650.6H1150.0V547.5H1150.5V621.9H1150.9V588.9H1151.4V571.5H1151.8V605.4H1152.3V620.5H1152.7V615.8H1153.2V652.9H1153.6V623.5H1154.1V587.7H1154.6V567.7H1155.1V642.9H1155.5V566.7H1156.0V652.6H1156.5V641.6H1157.0V628.8H1157.4V618.5H1157.9V620.8H1158.4V606.4H1158.9V686.4H1159.3V650.1H1159.8V577.3H1160.2V576.4H1160.7V574.0H1161.1V568.8H1161.6V590.1H1162.0V545.1H1162.5V537.7H1162.9V539.1H1163.3V540.8H1163.8V537.5H1164.2V541.9H1164.7V540.3H1165.1V535.5H1165.6V597.2H1166.0V542.4H1166.4V576.1H1166.8V664.9H1167.3V642.5H1167.7V589.3H1168.2V661.3H1168.7V621.5H1169.2V547.5H1169.7V560.8H1170.1V596.2H1170.6V603.5H1171.1V564.1H1171.6V631.3H1172.1V604.8H1172.5V581.1H1173.0V595.7H1173.5V593.1H1174.0V557.1H1174.4V547.0H1174.9V539.6H1175.3V539.5H1175.8V538.6H1176.2V541.2H1176.7V545.6H1177.1V525.9H1177.6V639.7H1178.0V693.6H1178.5V597.6H1179.0V580.5H1179.5V630.4H1180.0V587.1H1180.4V533.1H1180.9V576.8H1181.4V573.6H1181.8V583.8H1182.2V546.5H1182.7V558.1H1183.1V582.1H1183.6V643.3H1184.0V544.2H1184.5V625.1H1185.0V496.4H1185.5V513.5H1186.0V462.4H1186.4V657.1H1186.8V622.5H1187.2V717.6H1187.6V646.1H1188.1V677.9H1188.6V690.0H1189.1V673.7H1189.5V593.0H1190.0V568.3H1190.5V573.8H1191.0V581.0H1191.5V579.4H1191.9V537.9H1192.4V655.0H1192.9V641.9H1193.4V572.3H1193.9V620.6H1194.3V669.7H1194.8V569.7H1195.3V563.3H1195.8V645.1H1196.3V589.8H1196.7V546.3H1197.2V599.9H1197.7V570.4H1198.2V562.5H1198.7V597.4H1199.1V684.1H1199.6V599.5H1200.1V620.3H1200.6V606.5H1201.0V664.3H1201.5V546.3H1202.0V611.4H1202.5V580.3H1203.0V621.2H1203.4V639.9H1203.9V648.1H1204.4V636.6H1204.9V537.5H1205.4V546.9H1205.8V488.8H1206.3V478.6H1206.8V482.1H1207.3V480.7H1207.8V488.0H1208.2V483.7H1208.7V475.6H1209.2V534.2H1209.7V536.3H1210.2V489.7H1210.6V502.8H1211.1V540.3H1211.6V510.9H1212.0V458.2H1212.3V345.1H1212.8V478.0H1213.3V426.9H1213.7V455.5H1214.2V460.2H1214.7V499.6H1215.1V388.0H1215.5V401.2H1215.9V363.0H1216.4V466.1H1216.9V443.8H1217.3V467.1H1217.8V519.8H1218.3V581.0H1218.8V499.2H1219.3V407.8H1219.7V522.7H1220.2V523.4H1220.7V382.2H1221.2V459.6H1221.7V526.4H1222.1V417.1H1222.6V488.8H1223.1V566.7H1223.6V416.8H1224.0V433.1H1224.5V472.9H1225.0V392.4H1225.5V522.4H1226.0V341.5H1226.4V419.9H1226.9V493.6H1227.4V405.1H1227.9V482.3H1228.4V600.2H1228.8V563.6H1229.3V499.6H1229.8V413.0H1230.3V355.8H1230.7V346.7H1231.1V338.0H1231.5V317.5H1232.0V380.2H1232.4V429.2H1232.9V449.5H1233.4V484.3H1233.9V499.6H1234.4V381.9H1234.8V446.4H1235.3V408.1H1235.8V398.7H1236.3V323.5H1236.7V343.2H1237.2V344.1H1237.7V345.6H1238.2V339.6H1238.7V370.2H1239.1V486.7H1239.5V405.5H1240.0V464.1H1240.4V528.3H1240.8V517.7H1241.3V516.9H1241.8V523.3H1242.3V505.5H1242.7V497.2H1243.2V594.6H1243.6V545.2H1244.1V525.6H1244.5V557.8H1245.0V527.1H1245.4V569.6H1245.9V638.5H1246.3V602.4H1246.8V615.1H1247.3V586.0H1247.8V609.8H1248.2V514.0H1248.7V503.4H1249.1V484.1H1249.5V501.3H1250.0V463.6H1250.4V660.4H1250.9V588.3H1251.4V679.3H1251.8V554.1H1252.2V630.5H1252.6V644.3H1253.1V530.7H1253.5V565.2H1254.0V616.9H1254.5V564.4H1255.0V612.4H1255.4V640.9H1255.9V568.5H1256.4V601.4H1256.9V625.3H1257.4V608.9H1257.8V564.3H1258.3V593.3H1258.8V591.7H1259.3V604.7H1259.8V619.4H1260.2V623.1H1260.6V626.8H1261.0V667.3H1261.4V624.8H1261.8V599.4H1262.2V632.5H1262.7V514.0H1263.1V639.1H1263.6V611.0H1264.1V548.7H1264.6V645.7H1265.0V567.7H1265.5V562.1H1266.0V570.6H1266.5V511.6H1266.9V496.9H1267.3V495.6H1267.8V507.2H1268.2V493.6H1268.6V556.8H1269.1V599.3H1269.6V511.6H1270.1V613.4H1270.5V638.5H1271.0V574.0H1271.5V591.0H1272.0V549.4H1272.5V586.3H1272.9V523.5H1273.4V579.5H1273.8V588.4H1274.2V664.9H1274.6V573.2H1275.1V615.8H1275.6V611.9H1276.1V584.6H1276.5V554.7H1277.0V520.1H1277.5V552.8H1278.0V538.0H1278.4V549.8H1278.9V514.0H1279.4V588.6H1279.9V572.5H1280.4V560.1H1280.8V619.4H1281.3V630.4H1281.7V656.3H1282.1V623.2H1282.6V684.1H1283.0V574.0H1283.4V572.5H1283.8V545.1H1284.2V531.6H1284.7V539.4H1285.2V534.4H1285.6V519.4H1286.1V503.2H1286.6V547.8H1287.1V536.7H1287.6V548.8H1288.0V524.3H1288.5V569.1H1289.0V609.4H1289.5V610.2H1289.9V622.6H1290.4V620.5H1290.9V657.7H1291.4V596.8H1291.9V629.7H1292.3V613.7H1292.8V590.6H1293.3V576.4H1293.7V546.0H1294.1V559.4H1294.5V542.7H1294.9V624.1H1295.4V589.8H1295.8V602.8H1296.2V640.9H1296.7V625.0H1297.1V615.2H1297.6V604.1H1298.1V581.0H1298.6V653.2H1299.1V632.1H1299.5V643.7H1300.0V611.9H1300.5V618.4H1301.0V662.5H1301.4V618.7H1301.9V618.0H1302.4V586.0H1302.9V528.3H1303.4V619.6H1303.8V571.2H1304.3V558.2H1304.8V669.7H1305.3V630.9H1305.8V647.9H1306.2V600.6H1306.7V613.2H1307.2V625.8H1307.7V595.4H1308.2V613.1H1308.6V642.2H1309.1V616.9H1309.6V650.5H1310.1V617.1H1310.6V619.9H1311.0V603.8H1311.5V595.7H1312.0V588.2H1312.4V576.9H1312.9V560.4H1313.3V585.2H1313.7V537.9H1314.1V591.0H1314.6V602.2H1315.1V559.1H1315.6V613.6H1316.1V640.9H1316.5V539.3H1316.9V522.3H1317.3V497.2H1317.7V533.4H1318.2V577.1H1318.7V573.0H1319.2V551.4H1319.7V600.2H1320.1V561.9H1320.6V529.3H1321.1V547.3H1321.6V528.6H1322.1V554.3H1322.5V506.8H1323.0V573.4H1323.5V572.0H1324.0V594.5H1324.4V619.4H1324.9V546.0H1325.4V576.0H1325.9V545.2H1326.4V458.9H1326.8V557.5H1327.2V496.9H1327.7V598.1H1328.1V643.3H1328.5V534.1H1329.0V612.0H1329.5V525.7H1330.0V543.8H1330.4V511.6H1330.9V463.1H1331.4V454.8H1331.9V500.4H1332.4V451.2H1332.8V432.5H1333.3V504.6H1333.8V467.2H1334.3V496.7H1334.7V466.7H1335.2V523.5H1335.7V462.3H1336.2V461.3H1336.7V497.3H1337.1V517.1H1337.6V424.1H1338.1V518.3H1338.6V510.4H1339.1V546.1H1339.5V519.6H1340.0V597.8H1340.5V559.5H1341.0V520.4H1341.5V444.8H1341.9V476.6H1342.4V421.7H1342.9V563.4H1343.3V449.3H1343.7V605.0H1344.1V471.2H1344.5V427.4H1345.0V548.0H1345.4V437.2H1345.9V529.8H1346.3V456.3H1346.8V478.1H1347.2V384.6H1347.7V439.7H1348.2V443.7H1348.6V400.4H1349.1V419.5H1349.6V454.1H1350.0V626.1H1350.4V610.5H1350.8V676.9H1351.3V701.6H1351.8V692.2H1352.2V698.6H1352.7V729.6H1353.2V712.7H1353.6V589.4H1354.0V650.7H1354.4V571.5H1354.8V560.9H1355.3V522.1H1355.7V477.6H1356.1V458.9H1356.6V503.0H1357.0V582.4H1357.5V486.8H1358.0V650.5H1358.5V615.6H1358.9V564.3H1359.4V570.4H1359.9V564.8H1360.4V523.5H1360.8V647.3H1361.2V690.1H1361.6V747.5H1362.1V558.2H1362.5V616.6H1363.0V692.4H1363.5V562.5H1364.0V537.9H1364.5V563.0H1364.9V586.6H1365.4V617.0H1365.9V577.7H1366.4V626.6H1366.8V589.7H1367.3V540.6H1367.7V593.6H1368.2V553.3H1368.6V533.7H1369.1V574.8H1369.5V523.5H1370.0V595.5H1370.4V562.8H1370.9V570.0H1371.4V554.7H1371.9V625.9H1372.4V631.3H1372.8V594.1H1373.3V598.9H1373.8V596.9H1374.3V591.5H1374.8V515.2H1375.2V564.6H1375.7V567.0H1376.2V604.4H1376.7V585.4H1377.2V619.4H1377.6V687.3H1378.1V683.2H1378.6V663.6H1379.1V687.3H1379.5V679.2H1380.0V729.6H1380.5V632.1H1381.0V656.9H1381.5V648.5H1381.9V599.5H1382.4V566.7H1382.9V544.9H1383.3V540.7H1383.8V561.3H1384.2V546.8H1384.7V552.5H1385.1V548.8H1385.6V530.7H1386.0V564.5H1386.4V610.2H1386.8V538.0H1387.2V684.1H1387.7V567.7H1388.2V560.9H1388.7V600.2H1389.1V525.9H1389.6V561.0H1390.1V631.5H1390.6V579.1H1391.0V643.3H1391.5V575.1H1392.0V635.4H1392.5V580.5H1393.0V576.5H1393.4V614.0H1393.9V540.3H1394.4V534.2H1394.9V532.1H1395.4V535.3H1395.8V530.5H1396.3V527.1H1396.8V550.2H1397.3V632.6H1397.8V643.1H1398.2V589.7H1398.7V676.9H1399.2V656.3H1399.7V575.1H1400.2V601.6H1400.6V615.0H1401.1V542.7H1401.6V600.3H1402.1V602.0H1402.5V624.2H1403.0V642.2H1403.5V650.5H1404.0V620.0H1404.5V569.0H1404.9V600.9H1405.4V557.1H1405.9V563.6H1406.3V566.0H1406.7V563.1H1407.1V569.1H1407.6V546.3H1408.0V543.8H1408.4V530.6H1408.8V521.1H1409.2V567.3H1409.7V620.4H1410.1V570.2H1410.6V545.7H1411.0V569.1H1411.5V570.2H1411.9V638.5H1412.4V524.2H1412.8V575.9H1413.3V592.7H1413.7V602.5H1414.2V628.5H1414.6V547.0H1415.1V612.4H1415.5V492.4H1416.0V533.5H1416.4V530.8H1416.9V520.1H1417.4V597.8H1417.9V547.2H1418.4V570.0H1418.8V585.3H1419.3V575.4H1419.8V575.1H1420.3V542.7H1420.8V568.8H1421.2V577.6H1421.7V610.7H1422.2V582.3H1422.7V631.3H1423.2V596.2H1423.6V555.6H1424.1V558.4H1424.6V547.7H1425.1V530.7H1425.5V477.6H1426.0V495.8H1426.5V511.5H1427.0V513.2H1427.5V461.2H1427.9V574.9H1428.4V543.5H1428.9V588.9H1429.4V503.5H1429.9V624.2H1430.3V573.0H1430.8V542.5H1431.3V583.3H1431.8V487.6H1432.3V623.3H1432.7V564.9H1433.2V520.6H1433.7V534.9H1434.2V652.9H1434.7V654.6H1435.1V653.2H1435.6V654.3H1436.1V654.2H1436.6V655.3H1437.0V618.4H1437.4V602.1H1437.9V590.8H1438.3V469.6H1438.7V512.7H1439.2V528.4H1439.7V552.1H1440.2V568.1H1440.6V609.8H1441.1V530.7H1441.6V585.7H1442.1V593.7H1442.6V551.9H1443.0V497.2H1443.5V471.3H1444.0V492.9H1444.4V481.3H1444.8V488.6H1445.3V463.7H1445.7V474.1H1446.2V486.1H1446.6V452.9H1447.1V500.4H1447.6V547.3H1448.1V494.9H1448.5V571.6H1449.0V600.2H1449.5V556.8H1450.0V523.4H1450.5V519.2H1450.9V558.4H1451.4V490.0H1451.9V485.9H1452.4V480.3H1452.9V481.9H1453.3V489.0H1453.8V479.2H1454.3V546.0H1454.8V531.8H1455.3V520.9H1455.7V548.0H1456.2V590.6H1456.7V501.2H1457.1V502.6H1457.5V452.9H1457.9V493.4H1458.4V476.4H1458.9V478.2H1459.3V456.3H1459.8V506.8H1460.3V556.0H1460.8V530.4H1461.2V538.3H1461.7V561.9" fill="none" stroke="#585858" stroke-width="3.5" stroke-linejoin="miter" stroke-miterlimit="4"/>
<text x="305" y="281.8" text-anchor="end" font-family="Liberation Sans" font-size="28.2" fill="#1a1a1a" transform="translate(305 0) scale(1.15 1) translate(-305 0)">0,52</text>
<text x="305" y="348" text-anchor="end" font-family="Liberation Sans" font-size="28.2" fill="#1a1a1a" transform="translate(305 0) scale(1.15 1) translate(-305 0)">0,51</text>
<text x="305" y="414.2" text-anchor="end" font-family="Liberation Sans" font-size="28.2" fill="#1a1a1a" transform="translate(305 0) scale(1.15 1) translate(-305 0)">0,5</text>
<text x="305" y="480.4" text-anchor="end" font-family="Liberation Sans" font-size="28.2" fill="#1a1a1a" transform="translate(305 0) scale(1.15 1) translate(-305 0)">0,49</text>
<text x="305" y="546.6" text-anchor="end" font-family="Liberation Sans" font-size="28.2" fill="#1a1a1a" transform="translate(305 0) scale(1.15 1) translate(-305 0)">0,48</text>
<text x="305" y="612.8" text-anchor="end" font-family="Liberation Sans" font-size="28.2" fill="#1a1a1a" transform="translate(305 0) scale(1.15 1) translate(-305 0)">0,47</text>
<text x="305" y="679" text-anchor="end" font-family="Liberation Sans" font-size="28.2" fill="#1a1a1a" transform="translate(305 0) scale(1.15 1) translate(-305 0)">0,46</text>
<text x="305" y="745.2" text-anchor="end" font-family="Liberation Sans" font-size="28.2" fill="#1a1a1a" transform="translate(305 0) scale(1.15 1) translate(-305 0)">0,45</text>
<text x="305" y="811.4" text-anchor="end" font-family="Liberation Sans" font-size="28.2" fill="#1a1a1a" transform="translate(305 0) scale(1.15 1) translate(-305 0)">0,44</text>
<text transform="translate(332.7 821.5) rotate(-90) scale(0.91 1)" text-anchor="end" font-family="Liberation Sans" font-size="31.7" fill="#1a1a1a">13:40</text>
<text transform="translate(370.4 821.5) rotate(-90) scale(0.91 1)" text-anchor="end" font-family="Liberation Sans" font-size="31.7" fill="#1a1a1a">21:40</text>
<text transform="translate(408.1 821.5) rotate(-90) scale(0.91 1)" text-anchor="end" font-family="Liberation Sans" font-size="31.7" fill="#1a1a1a">5:40</text>
<text transform="translate(445.9 821.5) rotate(-90) scale(0.91 1)" text-anchor="end" font-family="Liberation Sans" font-size="31.7" fill="#1a1a1a">13:40</text>
<text transform="translate(483.6 821.5) rotate(-90) scale(0.91 1)" text-anchor="end" font-family="Liberation Sans" font-size="31.7" fill="#1a1a1a">21:40</text>
<text transform="translate(521.3 821.5) rotate(-90) scale(0.91 1)" text-anchor="end" font-family="Liberation Sans" font-size="31.7" fill="#1a1a1a">5:40</text>
<text transform="translate(559 821.5) rotate(-90) scale(0.91 1)" text-anchor="end" font-family="Liberation Sans" font-size="31.7" fill="#1a1a1a">13:40</text>
<text transform="translate(596.7 821.5) rotate(-90) scale(0.91 1)" text-anchor="end" font-family="Liberation Sans" font-size="31.7" fill="#1a1a1a">21:40</text>
<text transform="translate(634.5 821.5) rotate(-90) scale(0.91 1)" text-anchor="end" font-family="Liberation Sans" font-size="31.7" fill="#1a1a1a">5:40</text>
<text transform="translate(672.2 821.5) rotate(-90) scale(0.91 1)" text-anchor="end" font-family="Liberation Sans" font-size="31.7" fill="#1a1a1a">13:40</text>
<text transform="translate(709.9 821.5) rotate(-90) scale(0.91 1)" text-anchor="end" font-family="Liberation Sans" font-size="31.7" fill="#1a1a1a">21:40</text>
<text transform="translate(747.6 821.5) rotate(-90) scale(0.91 1)" text-anchor="end" font-family="Liberation Sans" font-size="31.7" fill="#1a1a1a">5:40</text>
<text transform="translate(785.3 821.5) rotate(-90) scale(0.91 1)" text-anchor="end" font-family="Liberation Sans" font-size="31.7" fill="#1a1a1a">13:40</text>
<text transform="translate(823.1 821.5) rotate(-90) scale(0.91 1)" text-anchor="end" font-family="Liberation Sans" font-size="31.7" fill="#1a1a1a">21:40</text>
<text transform="translate(860.8 821.5) rotate(-90) scale(0.91 1)" text-anchor="end" font-family="Liberation Sans" font-size="31.7" fill="#1a1a1a">5:40</text>
<text transform="translate(898.5 821.5) rotate(-90) scale(0.91 1)" text-anchor="end" font-family="Liberation Sans" font-size="31.7" fill="#1a1a1a">13:40</text>
<text transform="translate(936.2 821.5) rotate(-90) scale(0.91 1)" text-anchor="end" font-family="Liberation Sans" font-size="31.7" fill="#1a1a1a">21:40</text>
<text transform="translate(973.9 821.5) rotate(-90) scale(0.91 1)" text-anchor="end" font-family="Liberation Sans" font-size="31.7" fill="#1a1a1a">5:40</text>
<text transform="translate(1011.7 821.5) rotate(-90) scale(0.91 1)" text-anchor="end" font-family="Liberation Sans" font-size="31.7" fill="#1a1a1a">13:40</text>
<text transform="translate(1049.4 821.5) rotate(-90) scale(0.91 1)" text-anchor="end" font-family="Liberation Sans" font-size="31.7" fill="#1a1a1a">21:40</text>
<text transform="translate(1087.1 821.5) rotate(-90) scale(0.91 1)" text-anchor="end" font-family="Liberation Sans" font-size="31.7" fill="#1a1a1a">5:40</text>
<text transform="translate(1124.8 821.5) rotate(-90) scale(0.91 1)" text-anchor="end" font-family="Liberation Sans" font-size="31.7" fill="#1a1a1a">13:40</text>
<text transform="translate(1162.5 821.5) rotate(-90) scale(0.91 1)" text-anchor="end" font-family="Liberation Sans" font-size="31.7" fill="#1a1a1a">21:40</text>
<text transform="translate(1200.3 821.5) rotate(-90) scale(0.91 1)" text-anchor="end" font-family="Liberation Sans" font-size="31.7" fill="#1a1a1a">5:40</text>
<text transform="translate(1238 821.5) rotate(-90) scale(0.91 1)" text-anchor="end" font-family="Liberation Sans" font-size="31.7" fill="#1a1a1a">13:40</text>
<text transform="translate(1275.7 821.5) rotate(-90) scale(0.91 1)" text-anchor="end" font-family="Liberation Sans" font-size="31.7" fill="#1a1a1a">21:40</text>
<text transform="translate(1313.4 821.5) rotate(-90) scale(0.91 1)" text-anchor="end" font-family="Liberation Sans" font-size="31.7" fill="#1a1a1a">5:40</text>
<text transform="translate(1351.1 821.5) rotate(-90) scale(0.91 1)" text-anchor="end" font-family="Liberation Sans" font-size="31.7" fill="#1a1a1a">13:40</text>
<text transform="translate(1388.9 821.5) rotate(-90) scale(0.91 1)" text-anchor="end" font-family="Liberation Sans" font-size="31.7" fill="#1a1a1a">21:40</text>
<text transform="translate(1426.6 821.5) rotate(-90) scale(0.91 1)" text-anchor="end" font-family="Liberation Sans" font-size="31.7" fill="#1a1a1a">5:40</text>
<text transform="translate(1464.3 821.5) rotate(-90) scale(0.91 1)" text-anchor="end" font-family="Liberation Sans" font-size="31.7" fill="#1a1a1a">13:40</text>
</svg>
<div class="dt" style="left:216px;width:158px">31.01.19</div>
<div class="dt" style="left:374px;width:138px">01.02.19</div>
<div class="dt" style="left:512px;width:98px">02.02.19</div>
<div class="dt" style="left:610px;width:118px">03.02.19</div>
<div class="dt" style="left:728px;width:119px">04.02.19</div>
<div class="dt" style="left:847px;width:98px">05.02.19</div>
<div class="dt" style="left:945px;width:118px">06.02.19</div>
<div class="dt" style="left:1063px;width:99px">07.02.19</div>
<div class="dt" style="left:1162px;width:118px">08.02.19</div>
<div class="dt" style="left:1280px;width:118px">09.02.19</div>
<div class="dt" style="left:1398px;width:118px">10.02.19</div>
<div class="a t i" style="top:1002.84px;left:235px;">Рисунок 0.1.7 — График значений приведенного сопротивления теплопередаче стеклопакета, м<sup>2</sup> · °С/Вт</div>
<div class="a t i j" style="top:1065.84px;left:267.5px;width:1268.5px;">Среднее значение приведенного сопротивления теплопередаче стеклопакета за период наблюдений со-</div>
<div class="a t i" style="top:1095.54px;left:198px;">ставляет 0,47 м<sup>2</sup> · °С/Вт.</div>
<div class="a t " style="top:1157.04px;left:215px;">Рисунок А.4 — Пример оформления определения приведенного сопротивления теплопередаче оконного блока</div>
<div class="a t  j" style="top:1218.84px;left:267.5px;width:1268.5px;">Пример оформления определения приведенного сопротивления теплопередаче фрагмента стеновой кон-</div>
<div class="a t " style="top:1248.54px;left:198px;">струкции приведен на рисунке А.5.</div>
<div class="a t " style="top:2111.94px;left:197px;">24</div>
</body></html>
